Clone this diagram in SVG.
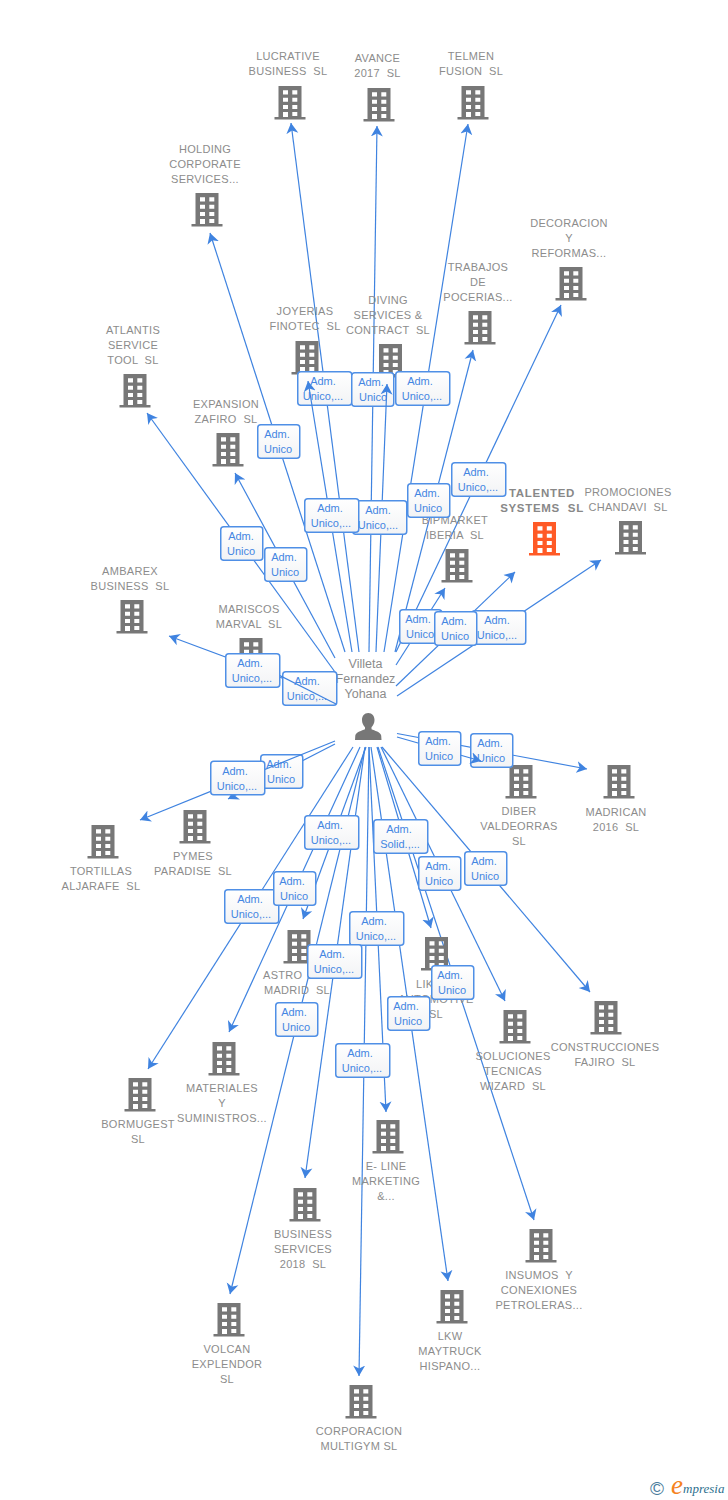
<svg xmlns="http://www.w3.org/2000/svg" width="728" height="1500" viewBox="0 0 728 1500">
<style>
text{font-family:"Liberation Sans",Arial,sans-serif;white-space:pre}
.n{font-size:11px;fill:#8c8c8c;text-anchor:middle;letter-spacing:.3px}
.t{font-size:11.500px;fill:#888;font-weight:bold;text-anchor:middle;letter-spacing:.7px}
.p{font-size:12.500px;fill:#8c8c8c;text-anchor:middle}
.b{fill:url(#bg);stroke:#4f8fe6;stroke-width:1.500}
.l{font-size:11px;fill:#4486e2;text-anchor:middle}
.c{fill:none;stroke:#3f83e0;stroke-width:1.200;marker-end:url(#a)}
</style>
<defs>
<linearGradient id="bg" x1="0" y1="0" x2="0" y2="1"><stop offset="0" stop-color="#fff"/><stop offset="1" stop-color="#f2f3f5"/></linearGradient>
<marker id="a" markerUnits="userSpaceOnUse" markerWidth="12" markerHeight="13" refX="10.500" refY="6.500" orient="auto"><path d="M10.500 6.500L0 .5L3 6.500L0 12.500Z" fill="#3f83e0"/></marker>
<path id="bd" fill-rule="evenodd" d="M-11.500 0H11.500V31H15.500V33.500H-15.500V31H-11.500ZM-7 4.300V8.500H-2V4.300ZM2.300 4.300V8.500H7.300V4.300ZM-7 11.700V15.800H-2V11.700ZM2.300 11.700V15.800H7.300V11.700ZM-7 19V23H-2V19ZM2.300 19V23H7.300V19ZM-7 26V31H-2V26ZM2.300 26V30H7.300V26Z"/>
<g id="w"><rect class="b" x=".75" y=".75" width="54" height="33.500" rx="3"/></g>
<g id="s"><rect class="b" x=".75" y=".75" width="42" height="33.500" rx="3"/></g>
</defs>
<rect width="728" height="1500" fill="#fff"/>

<g id="connectors-back">
<path class="c" d="M359 652L291 123"/>
<path class="c" d="M369 652L377 126"/>
<path class="c" d="M345 652L210 233"/>
<path class="c" d="M384 652L468 124"/>
<path class="c" d="M395 652L473 350"/>
<path class="c" d="M396 652L561 305"/>
<path class="c" d="M396 665L445 588"/>
<path class="c" d="M396 686L515 572"/>
<path class="c" d="M397 696L601 560"/>
<path class="c" d="M335 672L147 413"/>
<path class="c" d="M335 658L235 473"/>
<path class="c" d="M336 698L169 636"/>
<path class="c" d="M335 744L228 799"/>
<path class="c" d="M353 747L148 1069"/>
<path class="c" d="M360 747L229 1032"/>
<path class="c" d="M366 747L303 919"/>
<path class="c" d="M365 748L230 1294"/>
<path class="c" d="M365 747L305 1178"/>
<path class="c" d="M369 747L359 1376"/>
<path class="c" d="M369 747L386 1112"/>
<path class="c" d="M371 747L448 1281"/>
<path class="c" d="M377 747L431 928"/>
<path class="c" d="M378 747L534 1220"/>
<path class="c" d="M381 747L505 1001"/>
<path class="c" d="M382 747L590 992"/>
<path class="c" d="M397 733.500L587 769"/>
</g>

<g id="node-lucrative"><use href="#bd" x="290" y="86" fill="#777"/><text class="n" x="288" y="60">LUCRATIVE</text><text class="n" x="288" y="75">BUSINESS  SL</text></g>
<g id="node-avance"><use href="#bd" x="379" y="88" fill="#777"/><text class="n" x="377.500" y="62">AVANCE</text><text class="n" x="377.500" y="77">2017  SL</text></g>
<g id="node-telmen"><use href="#bd" x="473" y="86" fill="#777"/><text class="n" x="471" y="60">TELMEN</text><text class="n" x="471" y="75">FUSION  SL</text></g>
<g id="node-holding"><use href="#bd" x="207" y="193" fill="#777"/><text class="n" x="205" y="153">HOLDING</text><text class="n" x="205" y="168">CORPORATE</text><text class="n" x="205" y="183">SERVICES...</text></g>
<g id="node-decoracion"><use href="#bd" x="571" y="267" fill="#777"/><text class="n" x="569" y="227">DECORACION</text><text class="n" x="569" y="242">Y</text><text class="n" x="569" y="257">REFORMAS...</text></g>
<g id="node-trabajos"><use href="#bd" x="480" y="311" fill="#777"/><text class="n" x="478" y="271">TRABAJOS</text><text class="n" x="478" y="286">DE</text><text class="n" x="478" y="301">POCERIAS...</text></g>
<g id="node-joyerias"><use href="#bd" x="307" y="341" fill="#777"/><text class="n" x="305" y="315">JOYERIAS</text><text class="n" x="305" y="330">FINOTEC  SL</text></g>
<g id="node-diving"><use href="#bd" x="390.500" y="344" fill="#777"/><text class="n" x="388" y="304">DIVING</text><text class="n" x="388" y="319">SERVICES &amp;</text><text class="n" x="388" y="334">CONTRACT  SL</text></g>
<g id="node-atlantis"><use href="#bd" x="135" y="374" fill="#777"/><text class="n" x="133" y="334">ATLANTIS</text><text class="n" x="133" y="349">SERVICE</text><text class="n" x="133" y="364">TOOL  SL</text></g>
<g id="node-expansion"><use href="#bd" x="228" y="433" fill="#777"/><text class="n" x="226" y="408">EXPANSION</text><text class="n" x="226" y="423">ZAFIRO  SL</text></g>
<g id="node-talented"><use href="#bd" x="544.500" y="522" fill="#ff5a26"/><text class="t" x="542" y="497">TALENTED</text><text class="t" x="542" y="512">SYSTEMS  SL</text></g>
<g id="node-promociones"><use href="#bd" x="630.500" y="521" fill="#777"/><text class="n" x="628" y="496">PROMOCIONES</text><text class="n" x="628" y="511">CHANDAVI  SL</text></g>
<g id="node-bipmarket"><use href="#bd" x="457" y="549" fill="#777"/><text class="n" x="455" y="524">BIPMARKET</text><text class="n" x="455" y="539">IBERIA  SL</text></g>
<g id="node-ambarex"><use href="#bd" x="132" y="600" fill="#777"/><text class="n" x="130" y="575">AMBAREX</text><text class="n" x="130" y="590">BUSINESS  SL</text></g>
<g id="node-mariscos"><use href="#bd" x="251" y="638" fill="#777"/><text class="n" x="249" y="613">MARISCOS</text><text class="n" x="249" y="628">MARVAL  SL</text></g>
<g id="node-diber"><use href="#bd" x="521" y="765" fill="#777"/><text class="n" x="519" y="815">DIBER</text><text class="n" x="519" y="830">VALDEORRAS</text><text class="n" x="519" y="845">SL</text></g>
<g id="node-madrican"><use href="#bd" x="619" y="765" fill="#777"/><text class="n" x="616" y="816">MADRICAN</text><text class="n" x="616" y="831">2016  SL</text></g>
<g id="node-tortillas"><use href="#bd" x="103" y="825" fill="#777"/><text class="n" x="101" y="875">TORTILLAS</text><text class="n" x="101" y="890">ALJARAFE  SL</text></g>
<g id="node-pymes"><use href="#bd" x="195" y="810" fill="#777"/><text class="n" x="193" y="860">PYMES</text><text class="n" x="193" y="875">PARADISE  SL</text></g>
<g id="node-astro"><use href="#bd" x="299" y="930" fill="#777"/><text class="n" x="263" y="979" style="text-anchor:start">ASTRO  A</text><text class="n" x="297" y="994">MADRID  SL</text></g>
<g id="node-lik"><use href="#bd" x="436.500" y="937" fill="#777"/><text class="n" x="416" y="988" style="text-anchor:start">LIKE</text><text class="n" x="436" y="1003">AUTOMOTIVE</text><text class="n" x="436" y="1018">SL</text></g>
<g id="node-soluciones"><use href="#bd" x="515" y="1010" fill="#777"/><text class="n" x="513" y="1060">SOLUCIONES</text><text class="n" x="513" y="1075">TECNICAS</text><text class="n" x="513" y="1090">WIZARD  SL</text></g>
<g id="node-construcciones"><use href="#bd" x="606" y="1001" fill="#777"/><text class="n" x="605" y="1051">CONSTRUCCIONES</text><text class="n" x="605" y="1066">FAJIRO  SL</text></g>
<g id="node-materiales"><use href="#bd" x="224" y="1042" fill="#777"/><text class="n" x="222" y="1092">MATERIALES</text><text class="n" x="222" y="1107">Y</text><text class="n" x="222" y="1122">SUMINISTROS...</text></g>
<g id="node-bormugest"><use href="#bd" x="140" y="1078" fill="#777"/><text class="n" x="138" y="1128">BORMUGEST</text><text class="n" x="138" y="1143">SL</text></g>
<g id="node-eline"><use href="#bd" x="388" y="1120" fill="#777"/><text class="n" x="386" y="1170">E- LINE</text><text class="n" x="386" y="1185">MARKETING</text><text class="n" x="386" y="1200">&amp;...</text></g>
<g id="node-business"><use href="#bd" x="305" y="1188" fill="#777"/><text class="n" x="303" y="1238">BUSINESS</text><text class="n" x="303" y="1253">SERVICES</text><text class="n" x="303" y="1268">2018  SL</text></g>
<g id="node-insumos"><use href="#bd" x="541" y="1229" fill="#777"/><text class="n" x="539" y="1279">INSUMOS  Y</text><text class="n" x="539" y="1294">CONEXIONES</text><text class="n" x="539" y="1309">PETROLERAS...</text></g>
<g id="node-lkw"><use href="#bd" x="452" y="1290" fill="#777"/><text class="n" x="450" y="1340">LKW</text><text class="n" x="450" y="1355">MAYTRUCK</text><text class="n" x="450" y="1370">HISPANO...</text></g>
<g id="node-volcan"><use href="#bd" x="229" y="1303" fill="#777"/><text class="n" x="227" y="1353">VOLCAN</text><text class="n" x="227" y="1368">EXPLENDOR</text><text class="n" x="227" y="1383">SL</text></g>
<g id="node-corporacion"><use href="#bd" x="361" y="1385" fill="#777"/><text class="n" x="359" y="1435">CORPORACION</text><text class="n" x="359" y="1450">MULTIGYM SL</text></g>

<g id="node-person">
<path fill="#777" d="M368.300 713c-4 0-6.300 3-6.300 7c0 3 1.300 5.500 3 7.300v2c-3 1.500-9 2.500-9.700 6.200l-.3 4.500h26.500l-.3-4.500c-.7-3.700-6.700-4.700-9.700-6.200v-2c1.700-1.800 3-4.300 3-7.300c0-4-2.300-7-6.200-7z"/>
<text class="p" x="365.500" y="668">Villeta</text><text class="p" x="365.500" y="683">Fernandez</text><text class="p" x="365.500" y="698">Yohana</text>
</g>

<g id="labels-back">
<g transform="translate(297 371)"><use href="#w"/><text class="l" x="26" y="14">Adm.</text><text class="l" x="26" y="29">Unico,...</text></g>
<g transform="translate(351 372)"><use href="#s"/><text class="l" x="20" y="14">Adm.</text><text class="l" x="22" y="29">Unico</text></g>
<g transform="translate(282 671)"><use href="#w"/><text class="l" x="25" y="14">Adm.</text><text class="l" x="25" y="29">Unico,...</text></g>
<g transform="translate(470 733)"><use href="#s"/><text class="l" x="20" y="14">Adm.</text><text class="l" x="21" y="29">Unico</text></g>
<g transform="translate(260 754)"><use href="#s"/><text class="l" x="19" y="14">Adm.</text><text class="l" x="21" y="29">Unico</text></g>
</g>

<g id="connectors-front">
<path class="c" d="M352 652L308 381"/>
<path class="c" d="M376 652L387 384"/>
<path class="c" d="M336 704L253 662"/>
<path class="c" d="M397 737L481 761"/>
<path class="c" d="M335 741L140 820"/>
</g>

<g id="labels-front">
<g transform="translate(395 371)"><use href="#w"/><text class="l" x="25" y="14">Adm.</text><text class="l" x="27" y="29">Unico,...</text></g>
<g transform="translate(257 424)"><use href="#s"/><text class="l" x="20" y="14">Adm.</text><text class="l" x="21" y="29">Unico</text></g>
<g transform="translate(352 500)"><use href="#w"/><text class="l" x="26" y="14">Adm.</text><text class="l" x="26" y="29">Unico,...</text></g>
<g transform="translate(304 498)"><use href="#w"/><text class="l" x="26" y="14">Adm.</text><text class="l" x="27" y="29">Unico,...</text></g>
<g transform="translate(407 483)"><use href="#s"/><text class="l" x="20" y="14">Adm.</text><text class="l" x="21" y="29">Unico</text></g>
<g transform="translate(451 462)"><use href="#w"/><text class="l" x="25" y="14">Adm.</text><text class="l" x="27" y="29">Unico,...</text></g>
<g transform="translate(220 526)"><use href="#s"/><text class="l" x="21" y="14">Adm.</text><text class="l" x="21" y="29">Unico</text></g>
<g transform="translate(264 547)"><use href="#s"/><text class="l" x="20" y="14">Adm.</text><text class="l" x="21" y="29">Unico</text></g>
<g transform="translate(399 609)"><use href="#s"/><text class="l" x="19" y="14">Adm.</text><text class="l" x="21" y="29">Unico</text></g>
<g transform="translate(471 610)"><use href="#w"/><text class="l" x="26" y="14">Adm.</text><text class="l" x="26" y="29">Unico,...</text></g>
<g transform="translate(434 611)"><use href="#s"/><text class="l" x="20" y="14">Adm.</text><text class="l" x="21" y="29">Unico</text></g>
<g transform="translate(225 653)"><use href="#w"/><text class="l" x="25" y="14">Adm.</text><text class="l" x="27" y="29">Unico,...</text></g>
<g transform="translate(418 731)"><use href="#s"/><text class="l" x="20" y="14">Adm.</text><text class="l" x="21" y="29">Unico</text></g>
<g transform="translate(210 760.500)"><use href="#w"/><text class="l" x="25" y="14">Adm.</text><text class="l" x="27" y="29">Unico,...</text></g>
<g transform="translate(304 815)"><use href="#w"/><text class="l" x="26" y="14">Adm.</text><text class="l" x="27" y="29">Unico,...</text></g>
<g transform="translate(373 819)"><use href="#w"/><text class="l" x="26" y="14">Adm.</text><text class="l" x="27" y="29">Solid.,...</text></g>
<g transform="translate(418 856)"><use href="#s"/><text class="l" x="20" y="14">Adm.</text><text class="l" x="21" y="29">Unico</text></g>
<g transform="translate(464 851)"><use href="#s"/><text class="l" x="20" y="14">Adm.</text><text class="l" x="21" y="29">Unico</text></g>
<g transform="translate(224 889)"><use href="#w"/><text class="l" x="26" y="14">Adm.</text><text class="l" x="27" y="29">Unico,...</text></g>
<g transform="translate(273 871)"><use href="#s"/><text class="l" x="19" y="14">Adm.</text><text class="l" x="21" y="29">Unico</text></g>
<g transform="translate(349 911)"><use href="#w"/><text class="l" x="25" y="14">Adm.</text><text class="l" x="27" y="29">Unico,...</text></g>
<g transform="translate(307 944)"><use href="#w"/><text class="l" x="25" y="14">Adm.</text><text class="l" x="27" y="29">Unico,...</text></g>
<g transform="translate(431 965)"><use href="#s"/><text class="l" x="19" y="14">Adm.</text><text class="l" x="21" y="29">Unico</text></g>
<g transform="translate(387 996)"><use href="#s"/><text class="l" x="19" y="14">Adm.</text><text class="l" x="21" y="29">Unico</text></g>
<g transform="translate(275 1002)"><use href="#s"/><text class="l" x="19" y="14">Adm.</text><text class="l" x="21" y="29">Unico</text></g>
<g transform="translate(335 1043)"><use href="#w"/><text class="l" x="25" y="14">Adm.</text><text class="l" x="27" y="29">Unico,...</text></g>
</g>

<g id="logo">
<text x="650" y="1495" font-size="19" fill="#4a7c9c">©</text>
<text x="671" y="1494" font-size="27" fill="#f58220" style="font-family:'Liberation Serif',serif;font-style:italic">e</text>
<text x="683" y="1493" font-size="13" fill="#2d6f8e" style="font-family:'Liberation Serif',serif;font-style:italic">mpresia</text>
</g>
</svg>
